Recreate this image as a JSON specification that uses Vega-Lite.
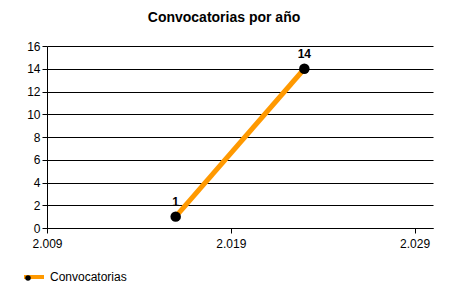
{
  "$schema": "https://vega.github.io/schema/vega-lite/v6.json",
  "width": 386,
  "height": 182,
  "autosize": {"type": "none"},
  "padding": {"left": 47, "top": 46, "right": 17, "bottom": 72},
  "background": "white",
  "config": {
    "view": {"stroke": null},
    "font": "Liberation Sans",
    "axis": {"labelFont": "Liberation Sans", "labelFontSize": 12, "labelColor": "black", "domainColor": "black", "tickColor": "black", "gridColor": "black", "gridOpacity": 1, "tickSize": 5, "labelPadding": 2}
  },
  "title": {"text": "Convocatorias por año", "fontSize": 14, "fontWeight": "bold", "font": "Liberation Sans", "color": "black", "anchor": "middle", "dx": -16, "offset": 15},
  "data": {"values": [
    {"year": 2016, "value": 1, "s": "Convocatorias", "s2": "Convocatorias"},
    {"year": 2023, "value": 14, "s": "Convocatorias", "s2": "Convocatorias"}
  ]},
  "encoding": {
    "x": {"field": "year", "type": "quantitative", "scale": {"domain": [2009, 2030], "nice": false, "zero": false},
      "axis": {"title": null, "values": [2009, 2019, 2029], "grid": false, "labelExpr": "replace(format(datum.value, ','), ',', '.')", "labelFlush": false, "labelPadding": 5}},
    "y": {"field": "value", "type": "quantitative", "scale": {"domain": [0, 16], "nice": false},
      "axis": {"title": null, "values": [0, 2, 4, 6, 8, 10, 12, 14, 16], "grid": true}}
  },
  "layer": [
    {"mark": {"type": "line", "strokeWidth": 5},
     "encoding": {"color": {"field": "s", "type": "nominal", "scale": {"range": ["#FF9900"]},
       "legend": {"orient": "none", "legendX": -25, "legendY": 219, "title": null, "symbolType": "stroke", "symbolStrokeWidth": 4, "symbolSize": 400, "labelFontSize": 12, "labelFont": "Liberation Sans", "labelColor": "black"}}}},
    {"mark": {"type": "point", "filled": true, "color": "black", "opacity": 1, "size": 110},
     "encoding": {"shape": {"field": "s2", "type": "nominal", "scale": {"range": ["circle"]},
       "legend": {"orient": "none", "legendX": -25, "legendY": 226, "title": null, "symbolSize": 30, "symbolFillColor": "black", "symbolStrokeColor": "black", "labelExpr": "''", "labelFontSize": 12, "labelFont": "Liberation Sans"}}}},
    {"mark": {"type": "text", "dy": -15, "fontWeight": "bold", "fontSize": 12, "font": "Liberation Sans", "color": "black"},
     "encoding": {"text": {"field": "value", "type": "quantitative"}}}
  ]
}
